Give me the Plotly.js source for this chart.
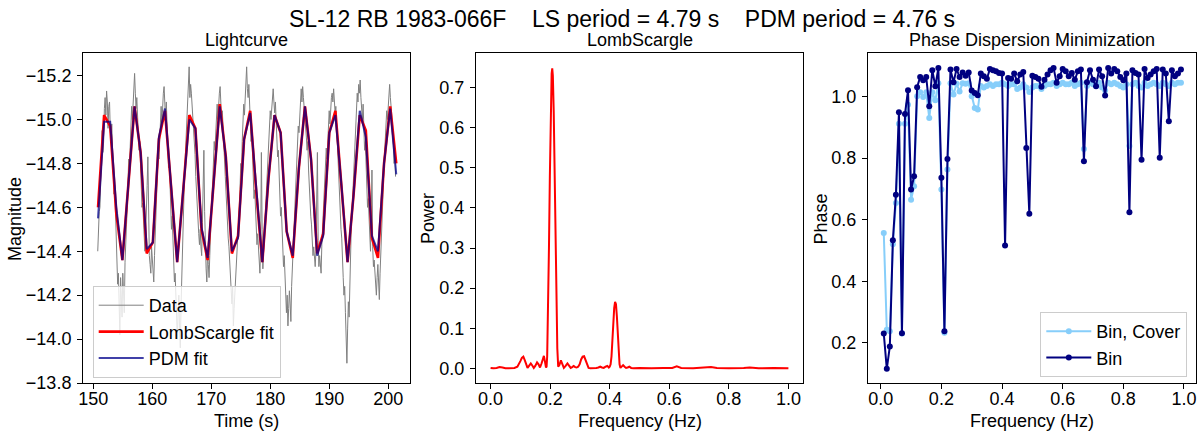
<!DOCTYPE html>
<html>
<head>
<meta charset="utf-8">
<script src="https://cdn.plot.ly/plotly-3.0.1.min.js"></script>
<style>html,body{margin:0;padding:0;background:#fff;}#chart{width:1199px;height:433px;}</style>
</head>
<body>
<div id="chart"></div>
<script>
// ---------- Lightcurve: raw data ----------
const dataTime = [
150.750,150.875,151.000,151.125,151.250,151.375,151.500,151.625,151.750,151.875,152.000,152.125,152.250,152.375,152.500,152.625,
152.750,152.875,153.000,153.125,153.250,153.375,153.500,153.625,153.750,153.875,154.000,154.125,154.250,154.375,154.500,154.625,
154.750,154.875,155.000,155.125,155.250,155.375,155.500,155.625,155.750,155.875,156.000,156.125,156.250,156.375,156.500,156.625,
156.750,156.875,157.000,157.125,157.250,157.375,157.500,157.625,157.750,157.875,158.000,158.125,158.250,158.375,158.500,158.625,
158.750,158.875,159.000,159.125,159.250,159.375,159.500,159.625,159.750,159.875,160.000,160.125,160.250,160.375,160.500,160.625,
160.750,160.875,161.000,161.125,161.250,161.375,161.500,161.625,161.750,161.875,162.000,162.125,162.250,162.375,162.500,162.625,
162.750,162.875,163.000,163.125,163.250,163.375,163.500,163.625,163.750,163.875,164.000,164.125,164.250,164.375,164.500,164.625,
164.750,164.875,165.000,165.125,165.250,165.375,165.500,165.625,165.750,165.875,166.000,166.125,166.250,166.375,166.500,166.625,
166.750,166.875,167.000,167.125,167.250,167.375,167.500,167.625,167.750,167.875,168.000,168.125,168.250,168.375,168.500,168.625,
168.750,168.875,169.000,169.125,169.250,169.375,169.500,169.625,169.750,169.875,170.000,170.125,170.250,170.375,170.500,170.625,
170.750,170.875,171.000,171.125,171.250,171.375,171.500,171.625,171.750,171.875,172.000,172.125,172.250,172.375,172.500,172.625,
172.750,172.875,173.000,173.125,173.250,173.375,173.500,173.625,173.750,173.875,174.000,174.125,174.250,174.375,174.500,174.625,
174.750,174.875,175.000,175.125,175.250,175.375,175.500,175.625,175.750,175.875,176.000,176.125,176.250,176.375,176.500,176.625,
176.750,176.875,177.000,177.125,177.250,177.375,177.500,177.625,177.750,177.875,178.000,178.125,178.250,178.375,178.500,178.625,
178.750,178.875,179.000,179.125,179.250,179.375,179.500,179.625,179.750,179.875,180.000,180.125,180.250,180.375,180.500,180.625,
180.750,180.875,181.000,181.125,181.250,181.375,181.500,181.625,181.750,181.875,182.000,182.125,182.250,182.375,182.500,182.625,
182.750,182.875,183.000,183.125,183.250,183.375,183.500,183.625,183.750,183.875,184.000,184.125,184.250,184.375,184.500,184.625,
184.750,184.875,185.000,185.125,185.250,185.375,185.500,185.625,185.750,185.875,186.000,186.125,186.250,186.375,186.500,186.625,
186.750,186.875,187.000,187.125,187.250,187.375,187.500,187.625,187.750,187.875,188.000,188.125,188.250,188.375,188.500,188.625,
188.750,188.875,189.000,189.125,189.250,189.375,189.500,189.625,189.750,189.875,190.000,190.125,190.250,190.375,190.500,190.625,
190.750,190.875,191.000,191.125,191.250,191.375,191.500,191.625,191.750,191.875,192.000,192.125,192.250,192.375,192.500,192.625,
192.750,192.875,193.000,193.125,193.250,193.375,193.500,193.625,193.750,193.875,194.000,194.125,194.250,194.375,194.500,194.625,
194.750,194.875,195.000,195.125,195.250,195.375,195.500,195.625,195.750,195.875,196.000,196.125,196.250,196.375,196.500,196.625,
196.750,196.875,197.000,197.125,197.250,197.375,197.500,197.625,197.750,197.875,198.000,198.125,198.250,198.375,198.500,198.625,
198.750,198.875,199.000,199.125,199.250,199.375,199.500,199.625,199.750,199.875,200.000,200.125,200.250,200.375,200.500,200.625,
200.750,200.875,201.000,201.125,201.250];
const dataMag = [
-14.40,-14.52,-14.58,-14.60,-14.72,-14.88,-14.95,-14.85,-14.90,-15.05,-15.10,-15.02,-15.13,-15.08,-14.96,-15.06,
-15.08,-14.95,-14.90,-14.98,-14.88,-14.72,-14.66,-14.70,-14.58,-14.46,-14.38,-14.25,-14.30,-14.12,-14.02,-14.28,
-14.22,-14.10,-14.30,-14.20,-14.12,-14.35,-14.48,-14.52,-14.60,-14.74,-14.82,-14.78,-14.86,-14.98,-15.06,-15.00,
-15.10,-15.16,-15.21,-15.12,-15.05,-15.10,-15.04,-14.95,-14.86,-14.90,-14.80,-14.68,-14.60,-14.62,-14.52,-14.45,
-14.40,-14.48,-14.56,-14.70,-14.83,-14.50,-14.38,-14.34,-14.30,-14.42,-14.38,-14.30,-14.26,-14.38,-14.47,-14.55,
-14.60,-14.75,-14.86,-14.82,-14.92,-15.00,-15.06,-14.98,-15.08,-15.12,-15.15,-15.05,-15.00,-15.08,-14.97,-14.88,
-14.78,-14.82,-14.70,-14.60,-14.50,-14.56,-14.42,-14.32,-14.26,-14.30,-14.16,-14.08,-14.00,-14.12,-14.20,-14.05,
-13.96,-14.15,-14.32,-14.40,-14.52,-14.66,-14.77,-14.85,-14.90,-15.02,-15.12,-15.18,-15.24,-15.10,-15.16,-15.12,
-15.07,-15.00,-14.96,-14.92,-14.84,-14.74,-14.66,-14.62,-14.57,-14.48,-14.43,-14.50,-14.42,-14.38,-14.53,-14.70,
-14.86,-14.58,-14.40,-14.32,-14.26,-14.40,-14.34,-14.28,-14.38,-14.50,-14.60,-14.66,-14.72,-14.84,-14.90,-14.86,
-14.96,-15.02,-15.07,-15.00,-15.08,-15.12,-15.15,-15.06,-15.00,-15.04,-14.94,-14.86,-14.78,-14.74,-14.67,-14.58,
-14.50,-14.46,-14.42,-14.36,-14.28,-14.20,-14.16,-14.24,-14.06,-14.14,-14.22,-14.28,-14.33,-14.40,-14.47,-14.52,
-14.58,-14.68,-14.80,-14.76,-14.90,-15.00,-15.07,-15.02,-15.13,-15.20,-15.24,-15.14,-15.10,-15.16,-15.07,-14.98,
-14.90,-14.94,-14.82,-14.72,-14.64,-14.68,-14.57,-14.50,-14.43,-14.48,-14.40,-14.36,-14.30,-14.42,-14.85,-14.50,
-14.32,-14.40,-14.47,-14.55,-14.60,-14.72,-14.80,-14.86,-14.90,-14.98,-15.04,-15.00,-15.06,-15.10,-15.14,-15.08,
-15.03,-15.08,-15.00,-14.90,-14.83,-14.86,-14.74,-14.64,-14.56,-14.60,-14.47,-14.40,-14.33,-14.38,-14.27,-14.18,
-14.12,-14.20,-14.06,-14.14,-14.22,-14.16,-14.08,-14.24,-14.32,-14.38,-14.43,-14.52,-14.64,-14.70,-14.78,-14.88,
-14.97,-14.94,-15.03,-15.10,-15.14,-15.08,-15.15,-15.10,-15.06,-15.02,-15.00,-14.92,-14.86,-14.90,-14.77,-14.68,
-14.60,-14.56,-14.52,-14.44,-14.38,-14.42,-14.37,-14.33,-14.40,-14.60,-14.85,-14.45,-14.33,-14.38,-14.34,-14.30,
-14.43,-14.50,-14.57,-14.62,-14.68,-14.78,-14.87,-14.82,-14.93,-15.00,-15.04,-14.98,-15.06,-15.10,-15.12,-15.08,
-15.14,-15.08,-15.03,-15.06,-14.97,-14.88,-14.80,-14.76,-14.70,-14.58,-14.50,-14.46,-14.40,-14.28,-14.20,-14.24,
-14.12,-14.02,-13.89,-14.05,-14.17,-14.10,-14.28,-14.40,-14.52,-14.58,-14.66,-14.78,-14.87,-14.92,-14.98,-15.06,
-15.12,-15.08,-15.16,-15.12,-15.18,-15.10,-15.03,-15.00,-15.07,-14.95,-14.86,-14.90,-14.77,-14.68,-14.60,-14.64,
-14.52,-14.46,-14.40,-14.55,-14.77,-14.42,-14.33,-14.36,-14.30,-14.24,-14.20,-14.28,-14.34,-14.26,-14.18,-14.30,
-14.42,-14.48,-14.56,-14.66,-14.77,-14.84,-14.88,-14.96,-15.04,-15.00,-15.08,-15.12,-15.16,-15.10,-15.06,-15.02,
-14.97,-14.88,-14.80,-14.84,-14.74];

// ---------- Lightcurve: model fits ----------
const fitTime = [
150.80,151.83,152.86,153.90,154.93,155.96,156.99,158.02,159.06,160.09,
161.12,162.15,163.18,164.22,165.25,166.28,167.31,168.34,169.38,170.41,
171.44,172.47,173.50,174.54,175.57,176.60,177.63,178.66,179.70,180.73,
181.76,182.79,183.82,184.86,185.89,186.92,187.95,188.98,190.02,191.05,
192.08,193.11,194.14,195.18,196.21,197.24,198.27,199.30,200.34,201.37];
const lsFit = [
-14.60,-15.02,-14.97,-14.57,-14.36,-14.70,-15.06,-14.85,-14.39,-14.44,
-14.91,-15.04,-14.70,-14.35,-14.68,-15.02,-14.96,-14.50,-14.36,-14.72,
-15.07,-14.83,-14.39,-14.47,-14.91,-15.04,-14.67,-14.35,-14.73,-15.02,
-14.94,-14.49,-14.37,-14.78,-15.06,-14.82,-14.39,-14.48,-14.94,-15.04,
-14.70,-14.35,-14.66,-15.02,-14.95,-14.46,-14.37,-14.80,-15.06,-14.80];
const pdmFit = [
-14.55,-14.99,-14.99,-14.60,-14.36,-14.70,-15.06,-14.85,-14.41,-14.44,
-14.92,-15.05,-14.70,-14.35,-14.68,-15.00,-14.96,-14.51,-14.37,-14.72,
-15.06,-14.83,-14.40,-14.46,-14.91,-15.03,-14.67,-14.35,-14.73,-15.02,
-14.94,-14.49,-14.38,-14.78,-15.06,-14.82,-14.38,-14.47,-14.94,-15.02,
-14.70,-14.35,-14.66,-15.04,-14.92,-14.47,-14.40,-14.80,-15.05,-14.75];

// ---------- Lomb-Scargle periodogram ----------
const lsFreq = [
0.000,0.010,0.020,0.030,0.040,0.050,0.060,0.070,0.080,0.090,
0.095,0.100,0.105,0.110,0.115,0.120,0.124,0.129,0.135,0.140,
0.145,0.150,0.156,0.161,0.166,0.171,0.175,0.179,0.183,0.186,
0.188,0.190,0.193,0.196,0.199,0.202,0.205,0.207,0.209,0.212,
0.215,0.218,0.221,0.224,0.227,0.231,0.236,0.241,0.246,0.252,
0.258,0.264,0.269,0.274,0.279,0.284,0.289,0.294,0.299,0.304,
0.309,0.314,0.319,0.324,0.329,0.335,0.345,0.355,0.362,0.368,
0.374,0.380,0.386,0.392,0.397,0.400,0.403,0.406,0.409,0.412,
0.415,0.418,0.421,0.424,0.427,0.430,0.433,0.436,0.440,0.445,
0.450,0.455,0.460,0.466,0.472,0.480,0.500,0.540,0.580,0.610,
0.625,0.640,0.680,0.720,0.740,0.760,0.800,0.850,0.870,0.900,
0.950,1.000];
const lsPower = [
0.001,0.000,0.001,0.003,0.002,0.000,0.000,0.000,0.001,0.004,
0.010,0.018,0.026,0.029,0.020,0.006,0.001,0.006,0.012,0.007,
0.001,0.006,0.015,0.010,0.002,0.012,0.026,0.031,0.015,0.002,
0.004,0.030,0.130,0.300,0.480,0.640,0.735,0.748,0.730,0.640,
0.490,0.320,0.160,0.050,0.004,0.008,0.020,0.010,0.001,0.006,
0.012,0.006,0.001,0.003,0.006,0.003,0.002,0.004,0.010,0.022,
0.029,0.030,0.020,0.008,0.001,0.000,0.000,0.001,0.002,0.004,
0.002,0.001,0.004,0.006,0.002,0.004,0.010,0.030,0.070,0.115,
0.150,0.166,0.160,0.130,0.085,0.040,0.010,0.001,0.004,0.008,
0.004,0.001,0.002,0.004,0.001,0.000,0.001,0.000,0.001,0.001,
0.005,0.001,0.000,0.001,0.003,0.001,0.000,0.001,0.002,0.000,
0.001,0.000];

// ---------- Phase Dispersion Minimization ----------
const pdmFreq = [
0.01,0.02,0.03,0.04,0.05,0.06,0.07,0.08,0.09,0.10,
0.11,0.12,0.13,0.14,0.15,0.16,0.17,0.18,0.19,0.20,
0.21,0.22,0.23,0.24,0.25,0.26,0.27,0.28,0.29,0.30,
0.31,0.32,0.33,0.34,0.35,0.36,0.37,0.38,0.39,0.40,
0.41,0.42,0.43,0.44,0.45,0.46,0.47,0.48,0.49,0.50,
0.51,0.52,0.53,0.54,0.55,0.56,0.57,0.58,0.59,0.60,
0.61,0.62,0.63,0.64,0.65,0.66,0.67,0.68,0.69,0.70,
0.71,0.72,0.73,0.74,0.75,0.76,0.77,0.78,0.79,0.80,
0.81,0.82,0.83,0.84,0.85,0.86,0.87,0.88,0.89,0.90,
0.91,0.92,0.93,0.94,0.95,0.96,0.97,0.98,0.99];
const binCover = [
0.557,0.242,0.237,0.520,0.654,0.912,0.230,0.912,0.974,0.665,
0.709,1.001,1.014,0.999,1.014,0.931,1.014,0.988,1.044,0.698,
0.232,0.763,1.044,1.007,1.042,1.017,1.044,1.042,1.044,1.001,
0.963,0.958,1.035,1.030,1.035,1.040,1.035,1.040,1.040,1.045,
1.040,1.035,1.040,1.040,1.025,1.030,1.040,1.030,1.015,1.030,
1.035,1.035,1.025,1.035,1.040,1.040,1.045,1.035,1.040,1.045,
1.040,1.040,1.045,1.035,1.040,1.045,0.830,1.035,1.045,1.040,
1.035,1.045,1.030,1.020,1.045,1.040,1.045,1.040,1.035,1.030,
1.040,0.840,1.040,1.045,1.035,1.030,1.045,1.035,1.040,1.045,
1.040,1.035,1.045,1.040,1.035,1.045,1.040,1.045,1.045];
const binOnly = [
0.230,0.115,0.188,0.533,0.681,0.949,0.231,0.944,1.021,0.698,
0.741,1.031,1.064,1.053,1.064,0.969,1.086,1.034,1.093,0.736,
0.237,0.797,1.088,1.047,1.090,1.064,1.079,1.068,1.079,1.020,
1.012,1.005,1.075,1.066,1.058,1.090,1.086,1.083,1.077,1.075,
0.516,1.061,1.058,1.075,1.050,1.072,1.080,0.833,0.619,1.068,
1.064,1.058,1.032,1.055,1.072,1.086,1.093,1.045,1.066,1.090,
1.083,1.066,1.077,1.055,1.083,1.088,0.790,1.047,1.086,1.055,
1.034,1.088,1.066,1.004,1.093,1.075,1.090,1.083,1.064,1.053,
1.075,0.624,1.086,1.077,1.072,0.795,1.090,1.061,1.072,1.083,
1.090,0.801,1.088,1.075,0.920,1.086,1.066,1.075,1.088];

// ---------- ticks & labels ----------
const timeTicks = [150,160,170,180,190,200];
const magTicks = [-15.2,-15.0,-14.8,-14.6,-14.4,-14.2,-14.0,-13.8];
const freqTicks = [0.0,0.2,0.4,0.6,0.8,1.0];
const powerTicks = [0.0,0.1,0.2,0.3,0.4,0.5,0.6,0.7];
const phaseTicks = [0.2,0.4,0.6,0.8,1.0];
const NB = '\u00A0\u00A0\u00A0\u00A0';
const mainTitle = 'SL-12 RB 1983-066F' + NB + 'LS period = 4.79 s' + NB + 'PDM period = 4.76 s';
const panelTitles = ['Lightcurve', 'LombScargle', 'Phase Dispersion Minimization'];
const xLabels = ['Time (s)', 'Frequency (Hz)', 'Frequency (Hz)'];
const yLabels = ['Magnitude', 'Power', 'Phase'];

const FONT = 'Liberation Sans, Arial, Helvetica, sans-serif';
const FS = 18;

const traces = [
  {x: dataTime, y: dataMag, type: 'scatter', mode: 'lines', name: 'Data',
   line: {color: '#808080', width: 1}, xaxis: 'x', yaxis: 'y', legend: 'legend'},
  {x: fitTime, y: lsFit, type: 'scatter', mode: 'lines', name: 'LombScargle fit',
   line: {color: '#ff0000', width: 2.6}, xaxis: 'x', yaxis: 'y', legend: 'legend'},
  {x: fitTime, y: pdmFit, type: 'scatter', mode: 'lines', name: 'PDM fit',
   line: {color: 'rgba(0,0,139,0.75)', width: 2}, xaxis: 'x', yaxis: 'y', legend: 'legend'},
  {x: lsFreq, y: lsPower, type: 'scatter', mode: 'lines', name: 'LS',
   line: {color: '#ff0000', width: 2}, xaxis: 'x2', yaxis: 'y2', showlegend: false},
  {x: pdmFreq, y: binCover, type: 'scatter', mode: 'lines+markers', name: 'Bin, Cover',
   line: {color: '#87cefa', width: 2}, marker: {color: '#87cefa', size: 6},
   xaxis: 'x3', yaxis: 'y3', legend: 'legend2'},
  {x: pdmFreq, y: binOnly, type: 'scatter', mode: 'lines+markers', name: 'Bin',
   line: {color: '#000080', width: 2}, marker: {color: '#000080', size: 6},
   xaxis: 'x3', yaxis: 'y3', legend: 'legend2'}
];

function ax(extra) {
  return Object.assign({
    showline: true, mirror: true, linecolor: 'black', linewidth: 1,
    ticks: 'outside', ticklen: 5, tickwidth: 1, tickcolor: 'black',
    showgrid: false, zeroline: false, autorange: false,
    tickfont: {family: FONT, size: FS, color: 'black'},
    tickmode: 'array', tickformat: '.1f', ticklabelstandoff: 2
  }, extra);
}

const yDom = [1 - 383/433, 1 - 53/433];
const txtFont = {family: FONT, size: FS, color: 'black'};
const panelCx = [246.5, 639.5, 1032];
const yTitleX = [15, 428, 820.5];

const ann = [
  {text: mainTitle, xref: 'paper', yref: 'paper', x: 622/1199, y: 1 - 19/433,
   xanchor: 'center', yanchor: 'middle', showarrow: false, font: {family: FONT, size: 23, color: 'black'}}
];
for (let i = 0; i < 3; i++) {
  ann.push({text: panelTitles[i], xref: 'paper', yref: 'paper', x: panelCx[i]/1199, y: 1 - 40/433,
    xanchor: 'center', yanchor: 'middle', showarrow: false, font: txtFont});
  ann.push({text: xLabels[i], xref: 'paper', yref: 'paper', x: panelCx[i]/1199, y: 1 - 421/433,
    xanchor: 'center', yanchor: 'middle', showarrow: false, borderpad: 0, font: txtFont});
  ann.push({text: yLabels[i], xref: 'paper', yref: 'paper', x: yTitleX[i]/1199, y: 1 - 219/433,
    xanchor: 'center', yanchor: 'middle', textangle: -90, showarrow: false, font: txtFont});
}

const layout = {
  width: 1199, height: 433,
  margin: {l: 0, r: 0, t: 0, b: 0},
  paper_bgcolor: 'white', plot_bgcolor: 'white',
  font: {family: FONT, size: FS, color: 'black'},
  showlegend: true,
  xaxis: ax({domain: [83/1199, 410/1199], anchor: 'y', range: [148.25, 203.7], tickvals: timeTicks, tickformat: 'd', ticklabelstandoff: -6}),
  yaxis: ax({domain: yDom, anchor: 'x', range: [-13.8, -15.303], tickvals: magTicks}),
  xaxis2: ax({domain: [476/1199, 803/1199], anchor: 'y2', range: [-0.049, 1.049], tickvals: freqTicks, ticklabelstandoff: -6}),
  yaxis2: ax({domain: yDom, anchor: 'x2', range: [-0.0366, 0.7865], tickvals: powerTicks}),
  xaxis3: ax({domain: [868/1199, 1196/1199], anchor: 'y3', range: [-0.042, 1.0396], tickvals: freqTicks, ticklabelstandoff: -6}),
  yaxis3: ax({domain: yDom, anchor: 'x3', range: [0.069, 1.142], tickvals: phaseTicks}),
  legend: {x: 92.7/1199, y: 1 - 378/433, xanchor: 'left', yanchor: 'bottom', itemwidth: 45,
    bgcolor: 'rgba(255,255,255,0.8)', bordercolor: '#cccccc', borderwidth: 1,
    font: {family: FONT, size: FS, color: 'black'}},
  legend2: {x: 1187.3/1199, y: 1 - 377/433, xanchor: 'right', yanchor: 'bottom', itemwidth: 45,
    bgcolor: 'rgba(255,255,255,0.8)', bordercolor: '#cccccc', borderwidth: 1,
    font: {family: FONT, size: FS, color: 'black'}},
  annotations: ann
};

Plotly.newPlot('chart', traces, layout, {displayModeBar: false, staticPlot: true});
</script>
</body>
</html>
